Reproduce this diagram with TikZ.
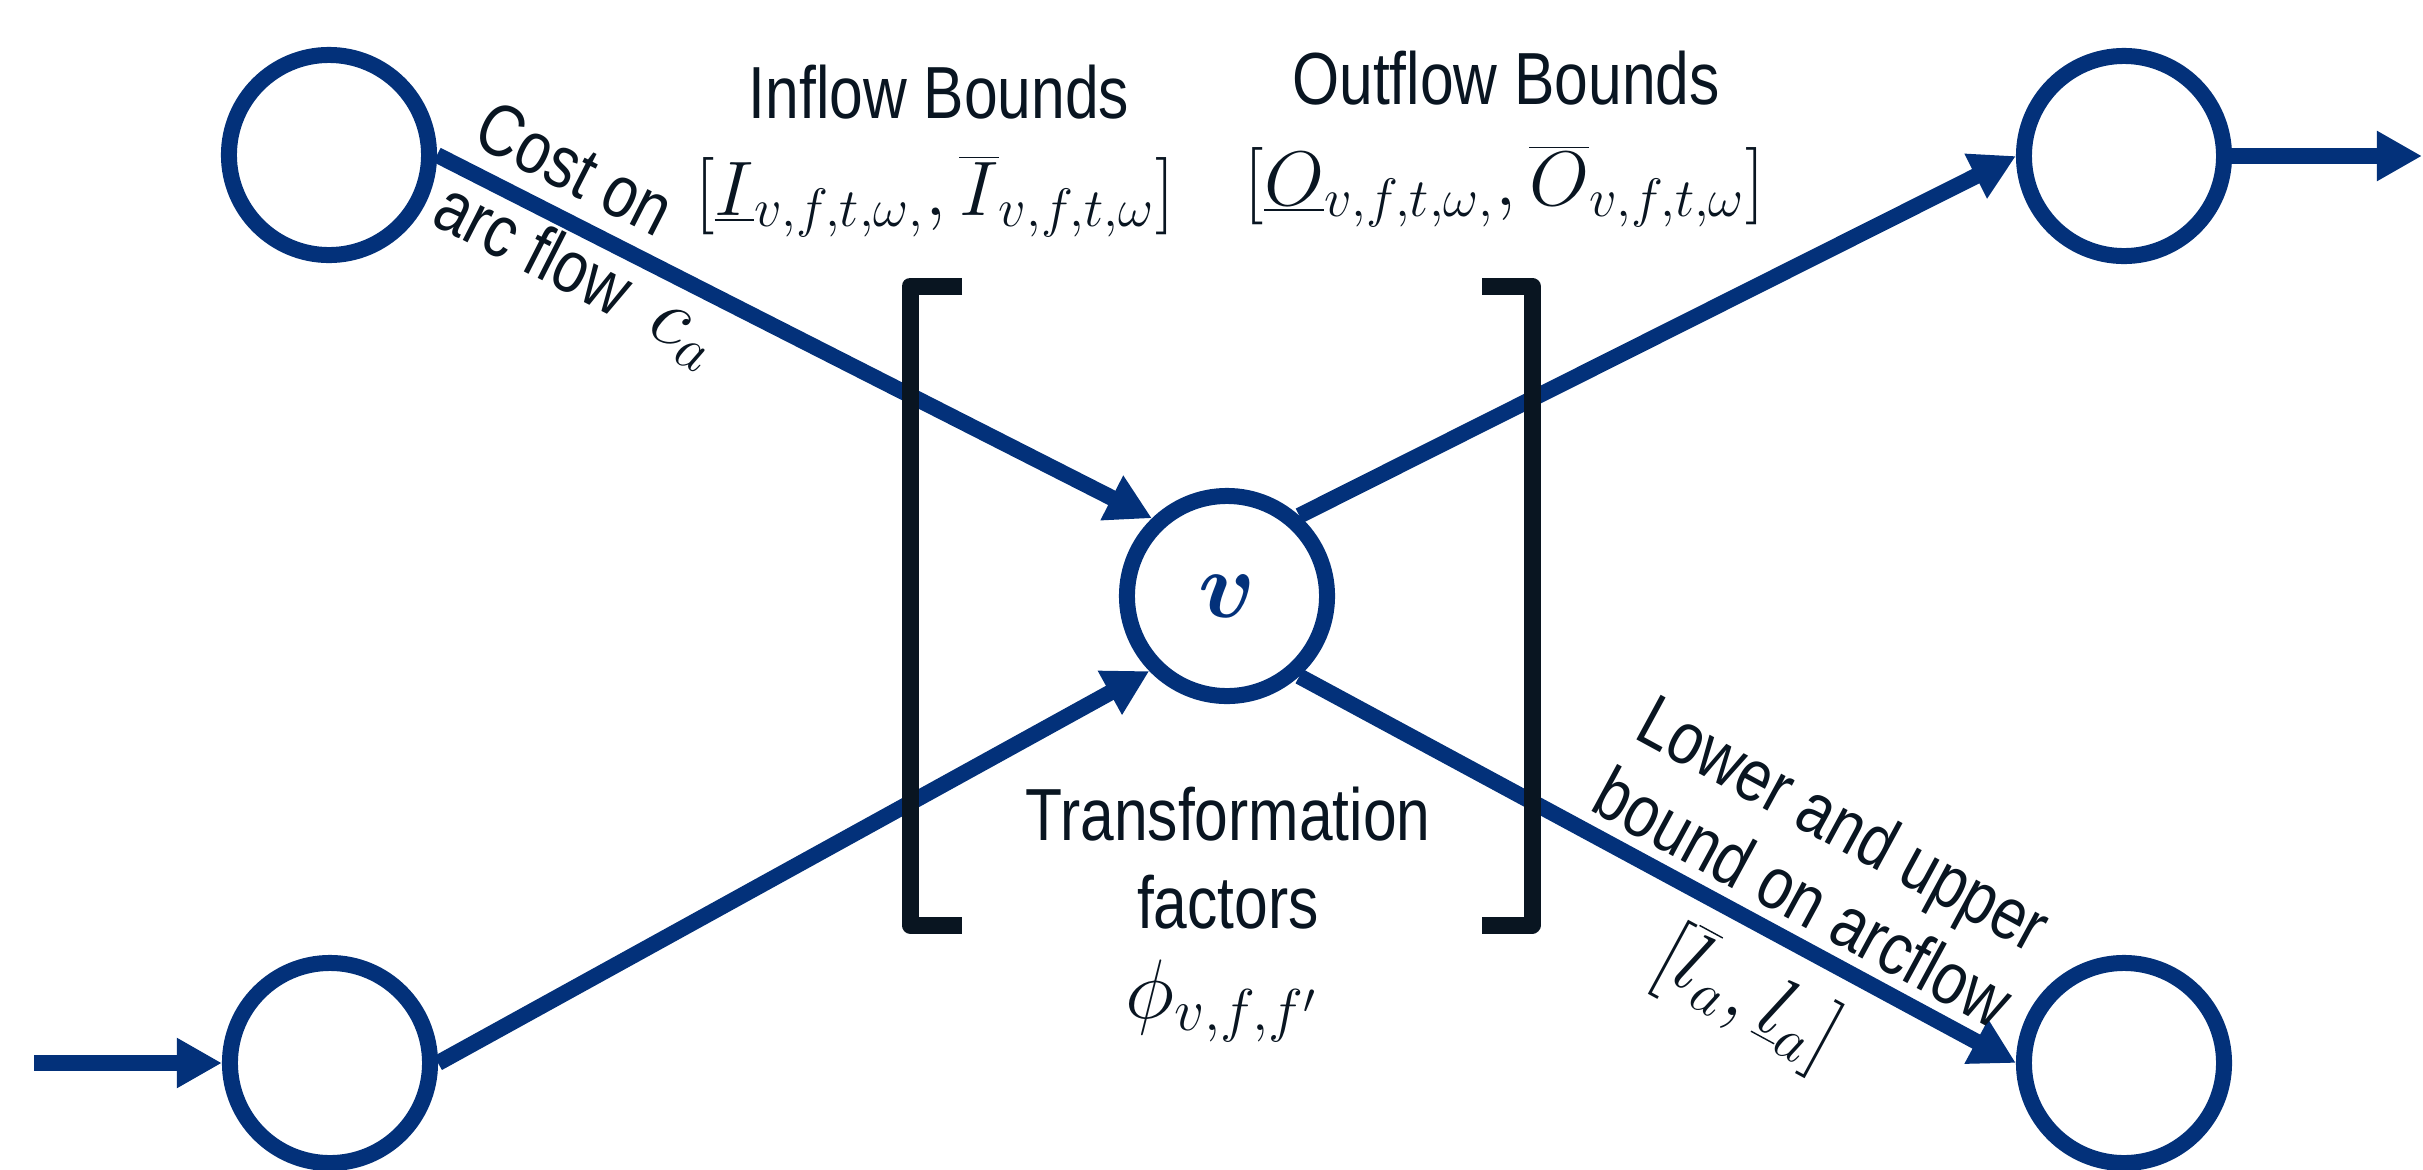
\RequirePackage{fix-cm}
\documentclass[tikz,border=0pt]{standalone}
\usepackage{fontspec}
\newfontfamily\narrowsans[FakeStretch=0.82]{Liberation Sans}
\usetikzlibrary{arrows.meta}
\definecolor{navy}{RGB}{3,49,122}
\definecolor{ink}{RGB}{9,21,33}
\begin{document}
\begin{tikzpicture}[x=0.01cm,y=-0.01cm,
  nd/.style={circle,draw=navy,line width=0.16cm,minimum size=2cm,inner sep=0pt},
  flow/.style={draw=navy,line width=0.16cm,-{Triangle[length=0.45cm,width=0.47cm]}},
  lbl/.style={text=ink,font=\narrowsans\fontsize{21}{25}\selectfont,inner sep=0pt},
  mth/.style={text=ink,font=\fontsize{22}{26}\selectfont,inner sep=0pt},
  brk/.style={draw=ink,line width=0.17cm,line join=round}]
\useasboundingbox (0,0) rectangle (2423,1169);
% nodes
\node[nd] (TL) at (329,155) {};
\node[nd] (BL) at (330,1063) {};
\node[nd] (TR) at (2124,156) {};
\node[nd] (BR) at (2124,1063) {};
\node[nd,text=navy,font=\fontsize{27}{30}\selectfont\boldmath] (v) at (1227,596) {$v$};
\coordinate (in) at (34,1063);
\coordinate (out) at (2422,156);
% connectors
\draw[flow] (TL.east) -- (v.134);
\draw[flow] (BL.east) -- (v.224);
\draw[flow] (v.48) -- (TR.west);
\draw[flow] (v.-48) -- (BR.west);
\draw[flow] (in) -- (BL.west);
\draw[flow] (TR.east) -- (out);
% brackets
\draw[brk] (962,286) -- (910,286) -- (910,925) -- (962,925);
\draw[brk] (1482,286) -- (1532,286) -- (1532,925) -- (1482,925);
% labels
\node[lbl,anchor=base] (inT) at (939,118) {Inflow Bounds};
\node[mth,anchor=base] (inM) at (935,215) {$[\underline{I}_{v,f,t,\omega,},\overline{I}_{v,f,t,\omega}]$};
\node[lbl,anchor=base] (outT) at (1506,104) {Outflow Bounds};
\node[mth,anchor=base] (outM) at (1505,205) {$[\underline{O}_{v,f,t,\omega,},\overline{O}_{v,f,t,\omega}]$};
\node[lbl,anchor=base] (tr1) at (1228,840) {Transformation};
\node[lbl,anchor=base] (tr2) at (1228,928) {factors};
\node[mth,anchor=base,font=\fontsize{24}{28}\selectfont] (phi) at (1222,1018) {$\phi_{v,f,f'}$};
\node[lbl,anchor=base west,rotate=-27] (c1) at (470,143) {Cost on};
\node[lbl,anchor=base west,rotate=-27] (c2) at (429,223) {arc flow~~{\fontsize{24}{28}\selectfont$c_a$}};
\node[lbl,anchor=base,rotate=-28.5] (l1) at (1832,846) {Lower and upper};
\node[lbl,anchor=base,rotate=-28.5] (l2) at (1791,920) {bound on arcflow};
\node[mth,anchor=base,rotate=-28.5,font=\fontsize{24}{28}\selectfont] (l3) at (1737,1018) {$[\overline{l}_a,\underline{l}_a]$};
\end{tikzpicture}
\end{document}
